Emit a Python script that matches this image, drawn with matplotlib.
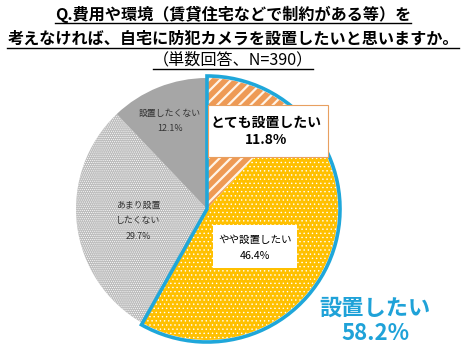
import matplotlib.pyplot as plt
from matplotlib.patches import Wedge, Rectangle
from matplotlib.lines import Line2D

plt.rcParams['font.family'] = ['Noto Sans CJK JP', 'DejaVu Sans']

# data
labels = ["とても設置したい", "やや設置したい", "あまり設置\nしたくない", "設置したくない"]
values = [11.8, 46.4, 29.7, 12.1]
colors = ["#EE9A55", "#FFC000", "#BDBDBD", "#A6A6A6"]
hatches = ["///", "....", "........", None]
total_label = "設置したい"
total_value = values[0] + values[1]

title_lines = ["Q.費用や環境（賃貸住宅などで制約がある等）を",
               "考えなければ、自宅に防犯カメラを設置したいと思いますか。",
               "（単数回答、N=390）"]

W, H = 477, 359
fig = plt.figure(figsize=(W / 100, H / 100), dpi=100)
ax = fig.add_axes([0, 0, 1, 1])

def Y(y):
    return H - y

cx, cy, r = 207, Y(209), 131
wedges, _ = ax.pie(values, colors=colors, startangle=90, counterclock=False,
                   center=(cx, cy), radius=r, frame=True,
                   wedgeprops=dict(linewidth=0))
ax.set_xlim(0, W)
ax.set_ylim(0, H)
ax.set_aspect('equal')
ax.axis('off')
hlw = [1.6, 0.5, 0.45, 0]
for w, h, lw in zip(wedges, hatches, hlw):
    if h:
        w.set_hatch(h)
        w.set_edgecolor('#FFF4E8' if h == "///" else 'white')
        if hasattr(w, 'set_hatch_linewidth'):
            w.set_hatch_linewidth(lw)

# outline around the "want to install" group
ang_end = 90 - 360 * total_value / sum(values)
ax.add_patch(Wedge((cx, cy), r + 2, ang_end, 90, fill=False,
                   edgecolor='#1FA7DA', linewidth=2.6, joinstyle='miter'))

# slice labels
ax.add_patch(Rectangle((208, Y(157)), 120, 52, facecolor='white',
                       edgecolor='#E8A060', linewidth=0.8, zorder=3))
ax.text(266, Y(131), labels[0] + "\n" + f"{values[0]}%", ha='center', va='center',
        fontsize=10, fontweight='bold', color='black', linespacing=1.3, zorder=4)
ax.add_patch(Rectangle((213, Y(268)), 84, 43, facecolor='white',
                       edgecolor='none', zorder=3))
ax.text(255, Y(248), labels[1] + "\n" + f"{values[1]}%", ha='center', va='center',
        fontsize=7.6, color='black', linespacing=1.75, zorder=4)
ax.text(138, Y(221), labels[2] + "\n" + f"{values[2]}%", ha='center', va='center',
        fontsize=6.4, color='#333333', linespacing=2.0)
ax.text(170, Y(121), labels[3] + "\n" + f"{values[3]}%", ha='center', va='center',
        fontsize=6.4, color='#333333', linespacing=2.0)

ax.text(375, Y(321), total_label + "\n" + f"{total_value:.1f}%", ha='center', va='center',
        fontsize=16, fontweight='bold', color='#1FA2D8', linespacing=1.15)

# title with underlines
title_y = [14, 39, 60]
title_w = ['bold', 'bold', 'normal']
texts = []
for s, y, fw in zip(title_lines, title_y, title_w):
    texts.append(ax.text(233, Y(y), s, ha='center', va='center', fontsize=11.6,
                         fontweight=fw, color='black'))
fig.canvas.draw()
rend = fig.canvas.get_renderer()
for t in texts:
    bb = t.get_window_extent(rend)
    yl = bb.y0 - 0.5
    ax.add_line(Line2D([bb.x0, bb.x1], [yl, yl], color='black', linewidth=1.0))

fig.savefig('out.png', dpi=100)
